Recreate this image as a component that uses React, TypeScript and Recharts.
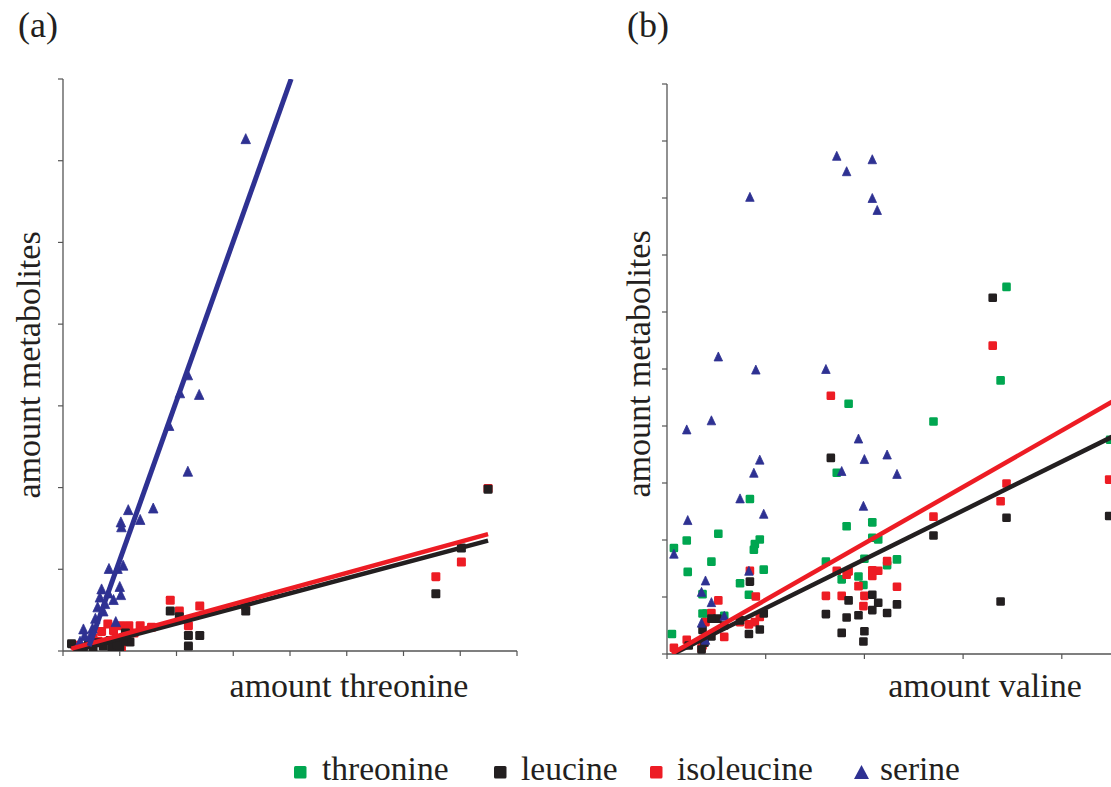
import React from 'react';
import { ScatterChart, Scatter, XAxis, YAxis } from 'recharts';

// ---------- data (panel a: x = amount threonine) ----------
const serineA: number[][] = [
  [3.22, 6.27], [2.2, 3.38], [2.06, 3.16], [2.4, 3.14], [1.87, 2.76], [2.2, 2.2],
  [1.15, 1.73], [1.02, 1.58], [1.03, 1.52], [1.36, 1.61], [1.59, 1.75], [0.81, 1.01],
  [0.96, 1.01], [1.06, 1.05], [0.68, 0.76], [0.8, 0.71], [1.0, 0.79], [0.89, 0.63],
  [1.02, 0.69], [0.65, 0.66], [0.61, 0.54], [0.71, 0.49], [0.93, 0.36], [0.36, 0.27],
  [0.52, 0.28], [0.38, 0.19], [0.74, 0.58], [0.57, 0.4], [0.3, 0.12], [0.48, 0.18],
];
const isoleucineA: number[][] = [
  [7.49, 1.99], [6.57, 0.91], [7.02, 1.09], [1.89, 0.62], [2.05, 0.49], [2.41, 0.55],
  [2.21, 0.31], [0.79, 0.33], [1.02, 0.31], [1.16, 0.31], [1.36, 0.31], [0.68, 0.24],
  [0.89, 0.25], [1.56, 0.29], [0.21, 0.07], [0.53, 0.16], [1.03, 0.04], [0.95, 0.15],
  [1.25, 0.22], [0.62, 0.12], [1.12, 0.26], [3.22, 0.55],
];
const leucineA: number[][] = [
  [7.49, 1.98], [7.02, 1.26], [6.57, 0.7], [3.22, 0.49], [1.89, 0.49], [2.05, 0.42],
  [2.21, 0.19], [2.41, 0.19], [2.21, 0.06], [0.15, 0.09], [0.36, 0.05], [0.53, 0.05],
  [0.71, 0.06], [0.86, 0.05], [1.0, 0.05], [1.18, 0.11], [1.12, 0.16], [0.83, 0.13],
  [0.45, 0.08], [0.62, 0.1], [1.05, 0.12], [0.95, 0.08], [1.1, 0.22],
];
const serineFitA: number[][] = [[0.46, 0.06], [4.02, 7]];
const isoleucineFitA: number[][] = [[0.15, 0.03], [7.49, 1.43]];
const leucineFitA: number[][] = [[0.18, 0.0], [7.49, 1.35]];

// ---------- data (panel b: x = amount valine) ----------
const threonineB: number[][] = [
  [3.44, 6.44], [3.38, 4.8], [2.7, 4.08], [1.84, 4.39], [1.72, 3.18], [4.49, 3.76],
  [0.84, 2.72], [1.82, 2.24], [2.08, 2.31], [2.08, 2.04], [2.14, 2.01], [0.52, 2.11],
  [0.2, 1.99], [0.94, 2.01], [0.89, 1.93], [0.88, 1.83], [0.07, 1.86], [0.45, 1.62],
  [0.21, 1.44], [0.98, 1.48], [1.61, 1.62], [2.0, 1.67], [2.33, 1.66], [2.23, 1.56],
  [0.74, 1.24], [0.83, 1.04], [1.77, 1.31], [1.94, 1.36], [1.99, 1.21], [0.36, 1.05],
  [0.36, 0.71], [0.4, 0.71], [0.58, 0.67], [0.05, 0.35],
];
const isoleucineB: number[][] = [
  [3.3, 5.41], [1.66, 4.53], [3.44, 2.99], [3.38, 2.68], [4.48, 3.06], [2.7, 2.41],
  [1.72, 1.46], [1.82, 1.39], [1.84, 1.45], [2.08, 1.47], [2.14, 1.46], [2.08, 1.37],
  [2.23, 1.63], [2.33, 1.18], [1.94, 1.19], [1.61, 1.02], [1.77, 1.02], [2.0, 1.02],
  [1.99, 0.84], [0.84, 1.46], [0.9, 1.01], [0.94, 0.65], [0.89, 0.56], [0.83, 0.52],
  [0.52, 0.94], [0.45, 0.72], [0.39, 0.56], [0.58, 0.3], [0.2, 0.25], [0.07, 0.11],
  [0.36, 0.15], [0.74, 0.56], [0.35, 0.1],
];
const leucineB: number[][] = [
  [3.3, 6.25], [1.66, 3.44], [3.44, 2.39], [4.48, 2.42], [2.7, 2.08], [3.38, 0.92],
  [0.84, 1.27], [1.84, 0.94], [2.08, 1.04], [2.14, 0.9], [2.33, 0.87], [2.08, 0.77],
  [2.23, 0.72], [1.61, 0.7], [1.82, 0.64], [1.94, 0.68], [1.77, 0.37], [2.0, 0.4],
  [1.99, 0.22], [0.98, 0.71], [0.94, 0.43], [0.83, 0.35], [0.74, 0.59], [0.45, 0.31],
  [0.51, 0.62], [0.45, 0.62], [0.58, 0.5], [0.36, 0.42], [0.22, 0.15], [0.35, 0.08],
  [0.38, 0.2],
];
const serineB: number[][] = [
  [1.72, 8.74], [2.08, 8.68], [1.82, 8.47], [0.84, 8.02], [2.08, 8.0], [2.13, 7.79],
  [0.52, 5.22], [0.9, 4.99], [1.61, 5.0], [0.45, 4.1], [0.2, 3.94], [1.94, 3.78],
  [2.23, 3.5], [0.94, 3.41], [2.0, 3.42], [0.88, 3.18], [1.77, 3.21], [2.33, 3.16],
  [0.74, 2.73], [1.99, 2.6], [0.98, 2.46], [0.21, 2.35], [0.07, 1.76], [0.83, 1.46],
  [0.39, 1.29], [0.35, 1.09], [0.45, 0.91], [0.58, 0.67], [0.35, 0.55], [0.39, 0.25],
];
const isoleucineFitB: number[][] = [[0.05, 0.01], [5, 4.91]];
const leucineFitB: number[][] = [[0.06, 0.0], [5, 4.23]];

const ticksA_x = [0, 1, 2, 3, 4, 5, 6, 7, 8];
const ticksA_y = [0, 1, 2, 3, 4, 5, 6, 7];
const ticksB_x = [0, 1, 2, 3, 4, 5];
const ticksB_y = [0, 1, 2, 3, 4, 5, 6, 7, 8, 9, 10];

const legendItems = [
  { label: 'threonine', color: '#00a650', kind: 'square', x: 294, tx: 322 },
  { label: 'leucine', color: '#231f20', kind: 'square', x: 494, tx: 521 },
  { label: 'isoleucine', color: '#ed1c24', kind: 'square', x: 650, tx: 677 },
  { label: 'serine', color: '#2e3192', kind: 'triangle', x: 854, tx: 880 },
];

// ---------- styles ----------
const GREEN = '#00a650';
const BLACK = '#231f20';
const RED = '#ed1c24';
const BLUE = '#2e3192';
const AXIS = '#555555';
const FONT = "'Liberation Serif', 'Times New Roman', serif";

const toPts = (a: number[][]) => a.map(([x, y]) => ({ x, y }));

const makeSquare = (size: number) => (p: any) => {
  const { cx, cy, fill } = p;
  if (cx == null || cy == null) return <g />;
  return <rect x={cx - size / 2} y={cy - size / 2} width={size} height={size} rx={1.3} fill={fill} />;
};
const makeTriangle = (w: number, h: number) => (p: any) => {
  const { cx, cy, fill } = p;
  if (cx == null || cy == null) return <g />;
  return (
    <path
      d={`M${cx},${cy - h / 2} L${cx + w / 2},${cy + h / 2} L${cx - w / 2},${cy + h / 2} Z`}
      fill={fill}
      stroke={fill}
      strokeWidth={0.8}
      strokeLinejoin="round"
    />
  );
};
const noShape = () => <g />;
const noTick = () => <g />;

const squareA = makeSquare(9);
const squareB = makeSquare(8.6);
const triA = makeTriangle(9.5, 10);
const triB = makeTriangle(8.5, 9);

export default function App() {
  const axisProps = {
    type: 'number' as const,
    tick: noTick,
    tickSize: 5,
    axisLine: { stroke: AXIS, strokeWidth: 1.3 },
    tickLine: { stroke: AXIS, strokeWidth: 1.2 },
    allowDataOverflow: true,
  };
  return (
    <div style={{ position: 'fixed', left: 0, top: 0, width: 1111, height: 787, overflow: 'hidden', background: '#fff' }}>
      <div style={{ position: 'absolute', left: 0, top: 0 }}>
        <ScatterChart width={560} height={787} margin={{ top: 79, left: 62, right: 43, bottom: 135 }}>
          <XAxis {...axisProps} dataKey="x" domain={[0, 8]} ticks={ticksA_x} height={1} />
          <YAxis {...axisProps} dataKey="y" domain={[0, 7]} ticks={ticksA_y} width={1} />
          <Scatter data={toPts(isoleucineA)} fill={RED} shape={squareA} isAnimationActive={false} />
          <Scatter data={toPts(leucineA)} fill={BLACK} shape={squareA} isAnimationActive={false} />
          <Scatter data={toPts(serineA)} fill={BLUE} shape={triA} isAnimationActive={false} />
          <Scatter data={toPts(leucineFitA)} fill={BLACK} line={{ stroke: BLACK, strokeWidth: 4.5 }} shape={noShape} isAnimationActive={false} />
          <Scatter data={toPts(isoleucineFitA)} fill={RED} line={{ stroke: RED, strokeWidth: 4.5 }} shape={noShape} isAnimationActive={false} />
          <Scatter data={toPts(serineFitA)} fill={BLUE} line={{ stroke: BLUE, strokeWidth: 5 }} shape={noShape} isAnimationActive={false} />
        </ScatterChart>
      </div>
      <div style={{ position: 'absolute', left: 560, top: 0 }}>
        <ScatterChart width={700} height={787} margin={{ top: 84, left: 106, right: 99.5, bottom: 132 }}>
          <XAxis {...axisProps} dataKey="x" domain={[0, 5]} ticks={ticksB_x} height={1} />
          <YAxis {...axisProps} dataKey="y" domain={[0, 10]} ticks={ticksB_y} width={1} />
          <Scatter data={toPts(threonineB)} fill={GREEN} shape={squareB} isAnimationActive={false} />
          <Scatter data={toPts(isoleucineB)} fill={RED} shape={squareB} isAnimationActive={false} />
          <Scatter data={toPts(leucineB)} fill={BLACK} shape={squareB} isAnimationActive={false} />
          <Scatter data={toPts(serineB)} fill={BLUE} shape={triB} isAnimationActive={false} />
          <Scatter data={toPts(leucineFitB)} fill={BLACK} line={{ stroke: BLACK, strokeWidth: 4.5 }} shape={noShape} isAnimationActive={false} />
          <Scatter data={toPts(isoleucineFitB)} fill={RED} line={{ stroke: RED, strokeWidth: 4.5 }} shape={noShape} isAnimationActive={false} />
        </ScatterChart>
      </div>
      <svg width={1111} height={787} style={{ position: 'absolute', left: 0, top: 0, pointerEvents: 'none' }}>
        <g fontFamily={FONT} fill="#231f20">
          <text x={18} y={37} fontSize={36}>(a)</text>
          <text x={627} y={37} fontSize={36}>(b)</text>
          <text x={349} y={697} fontSize={34} textAnchor="middle">amount threonine</text>
          <text x={985} y={697} fontSize={34} textAnchor="middle">amount valine</text>
          <text x={40} y={365} fontSize={34} textAnchor="middle" transform="rotate(-90 40 365)">amount metabolites</text>
          <text x={650} y={364} fontSize={34} textAnchor="middle" transform="rotate(-90 650 364)">amount metabolites</text>
          {legendItems.map((it) => (
            <g key={it.label}>
              {it.kind === 'square' ? (
                <rect x={it.x} y={766} width={12.5} height={12.5} rx={1.5} fill={it.color} />
              ) : (
                <path d={`M${it.x + 7.5},765 L${it.x + 15},779 L${it.x},779 Z`} fill={it.color} />
              )}
              <text x={it.tx} y={780} fontSize={33.5}>{it.label}</text>
            </g>
          ))}
        </g>
      </svg>
    </div>
  );
}
